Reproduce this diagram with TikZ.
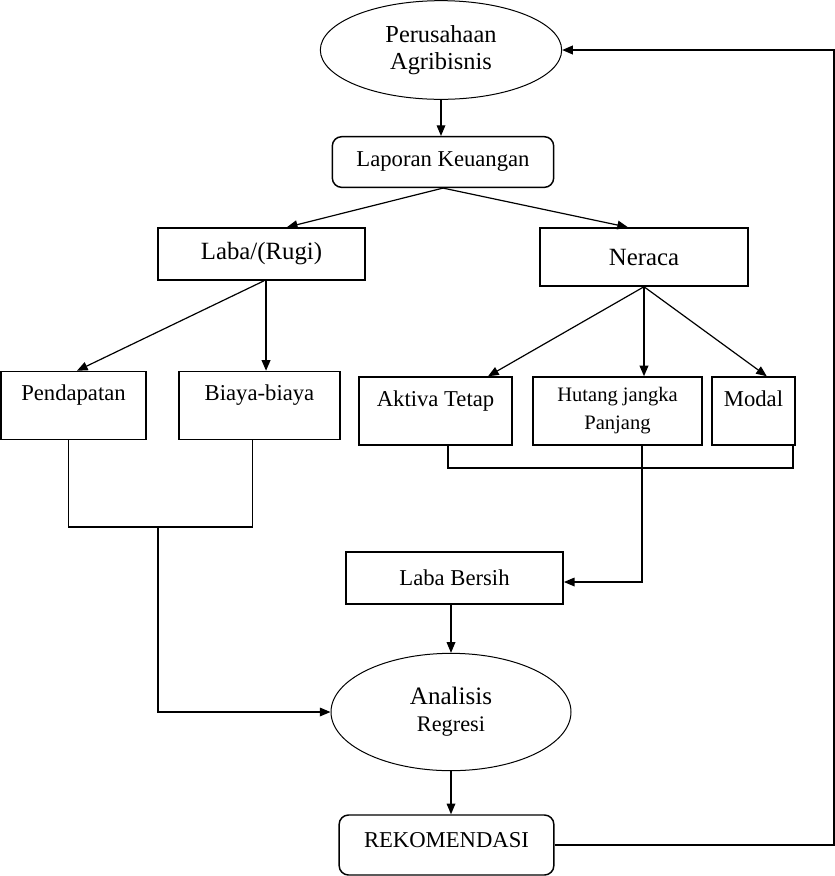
\documentclass[tikz,border=0pt]{standalone}
\usepackage{fontspec}
\setmainfont{Liberation Serif}
\usetikzlibrary{arrows.meta, shapes.geometric}

\begin{document}
\begin{tikzpicture}[
    x=0.75pt, y=-0.75pt,
    box/.style={draw, line width=1.1pt, inner sep=0pt, align=center,
                font=\fontsize{17}{20}\selectfont},
    rbox/.style={box, rounded corners=7pt},
    topbox/.style={box, text height=22pt, text depth=29pt, minimum height=51pt},
    oval/.style={draw, ellipse, line width=0.75pt, inner sep=0pt, align=center,
                 font=\fontsize{18.3}{20.5}\selectfont},
    arr/.style={-{Triangle[length=8pt,width=6.5pt]}, line width=0.9pt},
    link/.style={line width=0.9pt}
]
\useasboundingbox (0,0) rectangle (835,876);

% Top
\node[oval, minimum width=181pt, minimum height=74pt] (peru) at (441,50)
     {Perusahaan\\Agribisnis};
\node[rbox, minimum width=166pt, minimum height=38pt] (lapor) at (443,162)
     {Laporan Keuangan};

% Laba/(Rugi) and Neraca
\node[box, minimum width=155pt, minimum height=39pt,
      font=\fontsize{18.6}{21}\selectfont] (laba) at (261.5,254) {Laba/(Rugi)};
\node[box, minimum width=156pt, minimum height=43.5pt,
      font=\fontsize{18.6}{21}\selectfont] (neraca) at (644,257) {Neraca};

% Detail boxes
\node[topbox, minimum width=109pt] (pend)   at (73.5,405.5) {Pendapatan};
\node[topbox, minimum width=121pt] (biaya)  at (259.5,405.5) {Biaya-biaya};
\node[topbox, minimum width=115pt] (aktiva) at (435.5,411) {Aktiva Tetap};
\node[box, minimum width=127pt, minimum height=51pt,
      font=\fontsize{15.4}{21}\selectfont] (hutang) at (617.5,411)
     {Hutang jangka\\Panjang};
\node[topbox, minimum width=62pt]  (modal)  at (753.5,411) {Modal};

% Bottom
\node[box, minimum width=163pt, minimum height=39pt] (lbersih) at (454.5,578)
     {Laba Bersih};
\node[oval, minimum width=180pt, minimum height=88pt] (analisis) at (451,712)
     {{\fontsize{18.8}{22}\selectfont Analisis}\\{\fontsize{16.7}{22}\selectfont Regresi}};
\node[rbox, minimum width=161pt, minimum height=45pt,
      text height=24pt, text depth=21pt] (rekom) at (446.5,845) {REKOMENDASI};

\coordinate (jl) at (158,527);
\coordinate (jr) at (642,468);
\coordinate (fb) at (834,0);

% Arrows
\draw[arr] (peru.south) -- (peru.south |- lapor.north);
\draw[arr] (lapor.south) -- ([xshift=19pt]laba.north);
\draw[arr] (lapor.south) -- ([xshift=-12pt]neraca.north);

\draw[arr] ([xshift=2pt]laba.south) -- ([xshift=2.6pt]pend.north);
\draw[arr, line width=1.3pt] ([xshift=3.4pt]laba.south)
      -- ([xshift=3.4pt]laba.south |- biaya.north);

\draw[arr] (neraca.south) -- ([xshift=39.4pt]aktiva.north);
\draw[arr, line width=1.3pt] (neraca.south) -- (neraca.south |- hutang.north);
\draw[arr] (neraca.south) -- ([xshift=10pt]modal.north);

\draw[link] ([xshift=-4pt]pend.south) |- (jl) -| ([xshift=-5pt]biaya.south);
\draw[arr] (jl) |- (analisis.west);

\draw[link] ([xshift=9.4pt]aktiva.south) |- (jr) -| ([xshift=29.6pt]modal.south);
\draw[arr] (jr |- hutang.south) |- ([yshift=-3pt]lbersih.east);

\draw[arr] (analisis.north |- lbersih.south) -- (analisis.north);
\draw[arr] (analisis.south) -- (analisis.south |- rekom.north);

% Feedback
\draw[arr, line width=1.2pt] (rekom.east) -- (rekom.east -| fb) |- (peru.east);

\end{tikzpicture}
\end{document}
